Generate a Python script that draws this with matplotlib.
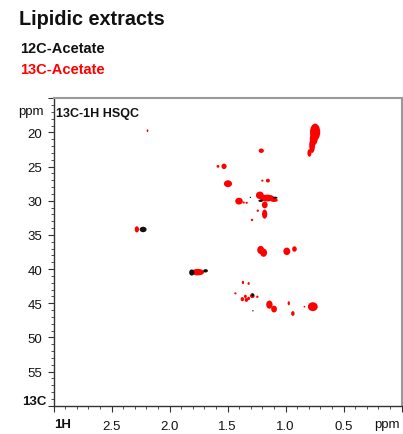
import matplotlib
matplotlib.use("Agg")
import matplotlib.pyplot as plt
from matplotlib.patches import Ellipse
from matplotlib.ticker import MultipleLocator, FixedLocator

plt.rcParams['font.family'] = ['Liberation Sans', 'DejaVu Sans']

# ---- data: peaks (1H ppm, 13C ppm, width in 1H ppm, width in 13C ppm) ----
red_h = [0.746, 0.758, 0.772, 0.795, 1.21, 1.583, 1.531, 1.497, 1.201, 1.153,
         1.222, 1.16, 1.10, 1.18, 1.402, 1.362, 1.336, 1.24, 1.29, 1.181,
         1.215, 1.19, 0.99, 0.924, 1.368, 1.319, 1.433, 1.373, 1.347, 1.338,
         1.319, 1.287, 1.244, 1.14, 1.10, 0.973, 0.938, 0.838, 0.766,
         2.282, 1.757, 2.19]
red_c = [19.95, 20.9, 21.9, 23.0, 22.67, 24.96, 24.96, 27.5, 27.05, 27.05,
         29.2, 29.6, 29.9, 30.6, 30.05, 30.25, 30.3, 31.45, 32.8, 31.95,
         37.2, 37.6, 37.4, 37.06, 41.95, 42.1, 43.55, 44.4, 44.0, 44.5,
         44.3, 43.9, 44.05, 45.2, 45.85, 45.0, 46.5, 45.5, 45.5,
         34.18, 40.45, 19.74]
red_wh = [0.088, 0.068, 0.05, 0.035, 0.045, 0.025, 0.045, 0.07, 0.02, 0.035,
          0.068, 0.13, 0.065, 0.05, 0.065, 0.02, 0.02, 0.02, 0.02, 0.045,
          0.06, 0.06, 0.06, 0.04, 0.02, 0.02, 0.02, 0.03, 0.025, 0.03,
          0.025, 0.04, 0.02, 0.055, 0.05, 0.02, 0.03, 0.015, 0.085,
          0.037, 0.11, 0.015]
red_wc = [2.5, 2.0, 2.2, 1.1, 0.65, 0.4, 0.8, 1.0, 0.3, 0.55,
          1.1, 1.0, 0.55, 1.0, 1.0, 0.3, 0.3, 0.35, 0.35, 1.35,
          1.2, 1.2, 1.1, 0.8, 0.5, 0.4, 0.3, 0.6, 0.5, 0.6,
          0.5, 0.7, 0.35, 1.2, 1.0, 0.6, 0.7, 0.25, 1.3,
          0.9, 0.95, 0.4]

black_h = [2.228, 1.809, 1.69, 1.215, 1.09, 1.304, 1.285, 1.282]
black_c = [34.2, 40.5, 40.25, 30.0, 29.55, 29.5, 43.8, 46.1]
black_wh = [0.06, 0.045, 0.04, 0.04, 0.04, 0.012, 0.025, 0.012]
black_wc = [0.8, 0.9, 0.5, 0.35, 0.3, 0.2, 0.5, 0.2]

x_major = [3.0, 2.5, 2.0, 1.5, 1.0, 0.5, 0.0]
x_labels = ['', '2.5', '2.0', '1.5', '1.0', '0.5', '']
y_major = [15, 20, 25, 30, 35, 40, 45, 50, 55, 60]
y_labels = ['', '20', '25', '30', '35', '40', '45', '50', '55', '']

fig = plt.figure(figsize=(4.03, 4.35), dpi=100)
ax = fig.add_axes([0.1328, 0.065, 0.864, 0.7067])

for h, c, wh, wc in zip(red_h, red_c, red_wh, red_wc):
    ax.add_patch(Ellipse((h, c), wh, wc, facecolor='#ff0000', edgecolor='none', zorder=2))
for h, c, wh, wc in zip(black_h, black_c, black_wh, black_wc):
    ax.add_patch(Ellipse((h, c), wh, wc, facecolor='#111111', edgecolor='none', zorder=3))

ax.set_xlim(3.0, 0.0)
ax.set_ylim(60, 15)

ax.xaxis.set_major_locator(FixedLocator(x_major))
ax.set_xticklabels(x_labels)
ax.xaxis.set_minor_locator(MultipleLocator(0.1))
ax.yaxis.set_major_locator(FixedLocator(y_major))
ax.set_yticklabels(y_labels)
ax.yaxis.set_minor_locator(MultipleLocator(1))

ax.tick_params(axis='both', which='major', direction='out', length=4, width=0.8,
               color='#333333', labelsize=9.5, labelcolor='#111111')
ax.tick_params(axis='both', which='minor', direction='out', length=2, width=0.6,
               color='#333333')
ax.tick_params(axis='x', which='major', pad=6)
ax.tick_params(axis='y', which='major', pad=4)

for s in ['left', 'bottom']:
    ax.spines[s].set_color('#333333')
    ax.spines[s].set_linewidth(1.0)
for s in ['top', 'right']:
    ax.spines[s].set_color('#999999')
    ax.spines[s].set_linewidth(1.5)

W, H = 403.0, 435.0
def fx(px):
    return px / W
def fy(py):
    return (H - py) / H

fig.text(fx(19), fy(25), 'Lipidic extracts', fontsize=14.3, fontweight='bold',
         ha='left', va='baseline', color='#111111')
fig.text(fx(20.5), fy(53.3), '12C-Acetate', fontsize=10.5, fontweight='bold',
         ha='left', va='baseline', color='#111111')
fig.text(fx(20.5), fy(74), '13C-Acetate', fontsize=10.5, fontweight='bold',
         ha='left', va='baseline', color='#ff0000')
fig.text(fx(56), fy(116.7), '13C-1H HSQC', fontsize=9, fontweight='bold',
         ha='left', va='baseline', color='#111111')
fig.text(fx(43.3), fy(111.7), 'ppm', fontsize=9.5, ha='right', va='center', color='#111111')
fig.text(fx(46.7), fy(401.7), '13C', fontsize=9.5, fontweight='bold', ha='right', va='center', color='#111111')
fig.text(fx(54), fy(425), '1H', fontsize=9.5, fontweight='bold', ha='left', va='center', color='#111111')
fig.text(fx(400), fy(425), 'ppm', fontsize=9.5, ha='right', va='center', color='#111111')

fig.savefig('out.png', dpi=100)
